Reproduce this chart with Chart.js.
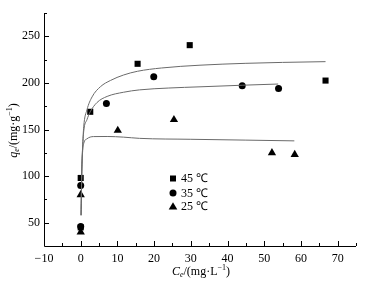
<!DOCTYPE html>
<html>
<head>
<meta charset="utf-8">
<script src="https://cdn.jsdelivr.net/npm/chart.js@4.4.0/dist/chart.umd.min.js"></script>
<style>
html,body{margin:0;padding:0;background:#fff;}
#wrap{width:365px;height:282px;position:relative;}
</style>
</head>
<body>
<div id="wrap"><canvas id="c" width="365" height="282"></canvas></div>
<script>
// ---- data ----
const seriesLabels = ['45 ℃', '35 ℃', '25 ℃'];
const ce45 = [0, 0, 2.6, 15.5, 29.7, 66.7];
const qe45 = [98, 45, 169, 220.5, 240.5, 202.5];
const ce35 = [0, 0, 7.0, 19.9, 44.0, 53.9];
const qe35 = [90, 46, 178, 206.5, 197, 194];
const ce25 = [0, 0, 10.1, 25.4, 52.1, 58.3];
const qe25 = [80, 40, 149, 160.5, 125, 123];
// fitted curves
const fitCe45 = [0.1, 0.3, 0.5, 0.82, 1.7, 3.1, 5.4, 8.1, 11.7, 15.5, 22, 32.5, 45, 55, 66.7];
const fitQe45 = [58, 108, 130, 153, 171, 185, 196, 202.6, 208.5, 212.5, 216, 219, 221, 222, 222.8];
const fitCe35 = [0.1, 0.3, 0.5, 0.82, 1.7, 2.6, 4.45, 7.2, 11.7, 16, 24, 32.5, 44, 53.8];
const fitQe35 = [58, 106, 128, 148, 160.5, 169, 179, 185.5, 190, 192.5, 194.5, 195.8, 197.5, 198.8];
const fitCe25 = [0.1, 0.3, 0.5, 0.82, 1.7, 3.5, 7.2, 11.7, 16, 30, 45, 58.2];
const fitQe25 = [58, 105, 125, 135, 140, 142.4, 142.5, 141.8, 140.5, 139.5, 138.6, 137.8];
const xTicks = [-10, 0, 10, 20, 30, 40, 50, 60, 70];
const yTicks = [50, 100, 150, 200, 250];
const xMinorTicks = [-5, 5, 15, 25, 35, 45, 55, 65, 75];
const yMinorTicks = [75, 125, 175, 225, 275];

const pts = (xs, ys) => xs.map((x, i) => ({x: x, y: ys[i]}));
const FONT = '"Liberation Serif", "Times New Roman", serif';

function drawMarker(ctx, style, x, y) {
  ctx.beginPath();
  if (style === 'rect') {
    ctx.rect(x - 3, y - 3, 6, 6);
  } else if (style === 'circle') {
    ctx.arc(x, y, 3.5, 0, Math.PI * 2);
  } else {
    ctx.moveTo(x, y - 4.3);
    ctx.lineTo(x + 4.3, y + 3);
    ctx.lineTo(x - 4.3, y + 3);
    ctx.closePath();
  }
  ctx.fill();
}

function drawRich(ctx, parts, x, y) {
  // measure
  let w = 0;
  parts.forEach(p => {
    ctx.font = (p.i ? 'italic ' : '') + (p.s ? 8 : 12) + 'px ' + FONT;
    p.w = ctx.measureText(p.t).width;
    w += p.w;
  });
  let cx = x - w / 2;
  ctx.textBaseline = 'middle';
  ctx.textAlign = 'left';
  parts.forEach(p => {
    ctx.font = (p.i ? 'italic ' : '') + (p.s ? 8 : 12) + 'px ' + FONT;
    const dy = p.s === 'sub' ? 3 : (p.s === 'sup' ? -4 : 0);
    ctx.fillText(p.t, cx, y + dy);
    cx += p.w;
  });
}

const axisPlugin = {
  id: 'axisPlugin',
  afterDraw(chart) {
    const ctx = chart.ctx;
    const xs = chart.scales.x, ys = chart.scales.y;
    const a = chart.chartArea;
    ctx.save();
    ctx.strokeStyle = '#000';
    ctx.fillStyle = '#000';
    ctx.lineWidth = 1;
    ctx.beginPath();
    ctx.moveTo(a.left + 0.5, a.top);
    ctx.lineTo(a.left + 0.5, a.bottom + 0.5);
    ctx.lineTo(a.right, a.bottom + 0.5);
    ctx.stroke();
    ctx.beginPath();
    xTicks.forEach(v => { const p = Math.round(xs.getPixelForValue(v)) + 0.5; ctx.moveTo(p, a.bottom); ctx.lineTo(p, a.bottom - 5); });
    xMinorTicks.forEach(v => { const p = Math.round(xs.getPixelForValue(v)) + 0.5; ctx.moveTo(p, a.bottom); ctx.lineTo(p, a.bottom - 3); });
    yTicks.forEach(v => { const p = Math.round(ys.getPixelForValue(v)) + 0.5; ctx.moveTo(a.left, p); ctx.lineTo(a.left + 5, p); });
    yMinorTicks.forEach(v => { const p = Math.round(ys.getPixelForValue(v)) + 0.5; ctx.moveTo(a.left, p); ctx.lineTo(a.left + 3, p); });
    ctx.stroke();

    // axis titles
    drawRich(ctx, [{t: 'C', i: true}, {t: 'e', i: true, s: 'sub'}, {t: '/(mg·L'}, {t: '−1', s: 'sup'}, {t: ')'}], (a.left + a.right) / 2 + 1, 272);
    ctx.save();
    ctx.translate(14, (a.top + a.bottom) / 2 + 1);
    ctx.rotate(-Math.PI / 2);
    drawRich(ctx, [{t: 'q', i: true}, {t: 'e', i: true, s: 'sub'}, {t: '/(mg·g'}, {t: '−1', s: 'sup'}, {t: ')'}], 0, 0);
    ctx.restore();

    // legend
    const styles = ['rect', 'circle', 'triangle'];
    const ly = [178.5, 193, 206.5];
    ctx.font = '12px ' + FONT;
    ctx.textAlign = 'left';
    ctx.textBaseline = 'middle';
    styles.forEach((s, i) => {
      drawMarker(ctx, s, 173, ly[i]);
      ctx.fillText(seriesLabels[i], 181, ly[i] + 0.5);
    });
    ctx.restore();
  }
};

const lineStyle = {showLine: true, pointRadius: 0, borderColor: '#6a6a6a', borderWidth: 1, fill: false, tension: 0.3, cubicInterpolationMode: 'monotone'};
const scatterStyle = {showLine: false, backgroundColor: '#000', borderColor: '#000', borderWidth: 0};

new Chart(document.getElementById('c'), {
  type: 'scatter',
  data: {
    datasets: [
      Object.assign({label: 'fit45', data: pts(fitCe45, fitQe45)}, lineStyle),
      Object.assign({label: 'fit35', data: pts(fitCe35, fitQe35)}, lineStyle),
      Object.assign({label: 'fit25', data: pts(fitCe25, fitQe25)}, lineStyle),
      Object.assign({label: seriesLabels[0], data: pts(ce45, qe45), pointStyle: 'rect', pointRadius: 4.3}, scatterStyle),
      Object.assign({label: seriesLabels[1], data: pts(ce35, qe35), pointStyle: 'circle', pointRadius: 3.5}, scatterStyle),
      Object.assign({label: seriesLabels[2], data: pts(ce25, qe25), pointStyle: 'triangle', pointRadius: 4.8}, scatterStyle)
    ]
  },
  options: {
    responsive: false,
    animation: false,
    layout: {padding: {left: 0, right: 9, top: 13, bottom: 0}},
    plugins: {legend: {display: false}, tooltip: {enabled: false}},
    scales: {
      x: {
        type: 'linear', min: -10, max: 75,
        border: {display: false},
        grid: {display: false, drawTicks: false},
        afterBuildTicks: s => { s.ticks = xTicks.map(v => ({value: v})); },
        afterFit: s => { s.height = 36; },
        ticks: {padding: 6, color: '#000', font: {family: FONT, size: 12}, maxRotation: 0, autoSkip: false,
          callback: v => (v < 0 ? '−' + Math.abs(v) : String(v))}
      },
      y: {
        type: 'linear', min: 25, max: 275,
        border: {display: false},
        grid: {display: false, drawTicks: false},
        afterBuildTicks: s => { s.ticks = yTicks.map(v => ({value: v})); },
        afterFit: s => { s.width = 44; },
        ticks: {padding: 4, color: '#000', font: {family: FONT, size: 12}, autoSkip: false}
      }
    }
  },
  plugins: [axisPlugin]
});
</script>
</body>
</html>
